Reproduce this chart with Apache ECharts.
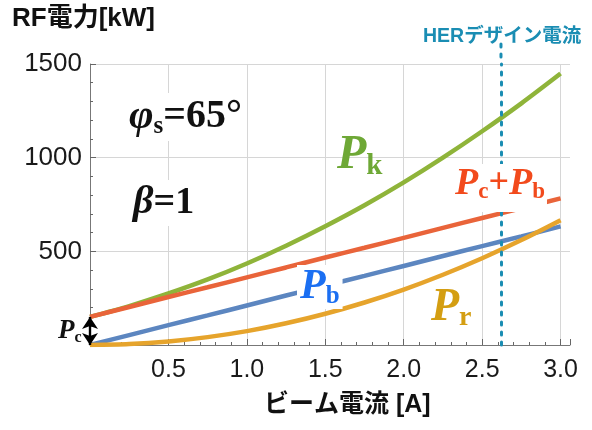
<!DOCTYPE html>
<html><head><meta charset="utf-8">
<script src="https://cdn.jsdelivr.net/npm/echarts@6/dist/echarts.min.js"></script>
<style>html,body{margin:0;padding:0;background:#fff}#c{width:592px;height:430px}</style>
</head><body><div id="c"></div><script>
// Beam current [A] and RF power components [kW]
const beamCurrent = [0, 0.25, 0.5, 0.75, 1.0, 1.25, 1.5, 1.75, 2.0, 2.25, 2.5, 2.75, 3.0];
const powerKlystron = [150, 208, 275, 350, 435, 530, 634, 746, 868, 1000, 1141, 1290, 1449];
const powerCavityBeam = [150, 203, 256, 308, 361, 414, 467, 519, 572, 625, 678, 730, 783];
const powerBeam = [0, 53, 106, 158, 211, 264, 317, 369, 422, 475, 528, 580, 633];
const powerReflected = [0, 5, 19, 42, 74, 116, 167, 227, 296, 375, 463, 560, 666];
const cavityLoss = 150;
const herDesignCurrent = 2.62;
const xTickLabels = ['0.5', '1.0', '1.5', '2.0', '2.5', '3.0'];
const yTickLabels = ['500', '1000', '1500'];

const SANS = '"Liberation Sans", Arial, "Noto Sans CJK JP", sans-serif';
const SERIF = '"Liberation Serif", "Times New Roman", serif';
const pairs = ys => beamCurrent.map((x, i) => [x, ys[i]]);

const chart = echarts.init(document.getElementById('c'));

// Math-style label: italic symbol, lowered upright subscript, upright text
function mathLabel(left, top, parts, color, size, pad) {
  const sub = Math.round(size * 0.6);
  const rich = {
    p: { fontFamily: SERIF, fontStyle: 'italic', fontWeight: 'bold', fontSize: size, fill: color, lineHeight: size + 2 },
    s: { fontFamily: SERIF, fontWeight: 'bold', fontSize: sub, fill: color, verticalAlign: 'bottom', lineHeight: sub + 2 },
    n: { fontFamily: SERIF, fontWeight: 'bold', fontSize: size * 0.95, fill: color, lineHeight: size + 2 }
  };
  return {
    type: 'text', left, top, z: 50,
    style: {
      text: parts.map(([k, t]) => '{' + k + '|' + t + '}').join(''),
      rich,
      backgroundColor: pad ? '#fff' : null,
      padding: pad || 0
    }
  };
}

chart.setOption({
  animation: false,
  grid: { left: 90, right: 22, top: 64, bottom: 85 },
  xAxis: {
    type: 'value', min: 0, max: 3.06, interval: 0.5,
    axisLine: { lineStyle: { color: '#777', width: 1 } },
    axisTick: { inside: true, length: 6, lineStyle: { color: '#666' } },
    minorTick: { show: true, splitNumber: 5, length: 3, lineStyle: { color: '#666' } },
    splitLine: { show: true, showMaxLine: false, lineStyle: { color: '#d6d6d6', width: 1 } },
    axisLabel: {
      margin: 13, fontFamily: SANS, fontSize: 25, color: '#1a1a1a',
      showMinLabel: false, showMaxLabel: false,
      formatter: v => { const s = v.toFixed(1); return xTickLabels.includes(s) ? s : ''; }
    }
  },
  yAxis: {
    type: 'value', min: 0, max: 1500, interval: 500,
    axisLine: { show: true, lineStyle: { color: '#777', width: 1 } },
    axisTick: { show: true, inside: true, length: 6, lineStyle: { color: '#666' } },
    minorTick: { show: true, splitNumber: 5, length: 3, lineStyle: { color: '#666' } },
    splitLine: { show: true, lineStyle: { color: '#d6d6d6', width: 1 } },
    axisLabel: {
      margin: 8, fontFamily: SANS, fontSize: 26, color: '#1a1a1a',
      formatter: v => { const s = String(v); return yTickLabels.includes(s) ? s : ''; }
    }
  },
  series: [
    { type: 'line', name: 'Pk', data: pairs(powerKlystron), smooth: 0.3, showSymbol: false,
      lineStyle: { color: '#8fb43a', width: 4.5 } },
    { type: 'line', name: 'Pc+Pb', data: pairs(powerCavityBeam), smooth: 0.3, showSymbol: false,
      lineStyle: { color: '#e9643a', width: 4.5 },
      markLine: {
        silent: true, symbol: ['arrow', 'arrow'], symbolSize: [12, 12],
        label: { show: false },
        lineStyle: { color: '#000', width: 2.4, type: 'solid' },
        data: [[{ coord: [0, 0] }, { coord: [0, cavityLoss] }]]
      } },
    { type: 'line', name: 'Pb', data: pairs(powerBeam), smooth: 0.3, showSymbol: false,
      lineStyle: { color: '#5c86c0', width: 4.5 } },
    { type: 'line', name: 'Pr', data: pairs(powerReflected), smooth: 0.3, showSymbol: false,
      lineStyle: { color: '#e6a42c', width: 4.5 },
      markLine: {
        silent: true, symbol: ['none', 'none'], label: { show: false },
        lineStyle: { color: '#1a8db3', width: 3, type: [3, 7], cap: 'round' },
        data: [{ xAxis: herDesignCurrent }]
      } }
  ]
});

const xHer = chart.convertToPixel({ xAxisIndex: 0 }, herDesignCurrent);
const yTop = chart.convertToPixel({ yAxisIndex: 0 }, 1500);

chart.setOption({
  graphic: [
    { type: 'text', left: 12, top: 6, style: { text: 'RF電力[kW]', fontFamily: SANS, fontWeight: 'bold', fontSize: 26, fill: '#111' } },
    { type: 'text', left: 264, top: 393, style: { text: 'ビーム電流 [A]', fontFamily: SANS, fontWeight: 'bold', fontSize: 25, fill: '#111' } },
    { type: 'text', left: 423, top: 27, style: { text: 'HERデザイン電流', fontFamily: SANS, fontWeight: 'bold', fontSize: 19.5, fill: '#1a8db3' } },
    { type: 'line', shape: { x1: xHer, y1: 44, x2: xHer, y2: yTop - 3 },
      style: { stroke: '#1a8db3', lineWidth: 3, lineDash: [3, 7], lineCap: 'round' } },
    mathLabel(127, 93, [['p', 'φ'], ['s', 's'], ['n', '=65°']], '#111', 42, [2, 2, 2, 2]),
    mathLabel(131, 180, [['p', 'β'], ['n', '=1']], '#111', 40, [2, 2, 2, 2]),
    mathLabel(337, 132, [['p', 'P'], ['s', 'k']], '#6ea836', 48, 0),
    mathLabel(453, 164, [['p', 'P'], ['s', 'c'], ['n', '+'], ['p', 'P'], ['s', 'b']], '#f24a1c', 38, [0, 2, 8, 2]),
    mathLabel(297, 265, [['p', 'P'], ['s', 'b']], '#1b6ff2', 42, [0, 3, 0, 3]),
    mathLabel(431, 285, [['p', 'P'], ['s', 'r']], '#d49e12', 46, 0),
    { type: 'text', left: 58, top: 318, z: 50, style: {
      text: '{p|P}{s|c}',
      rich: {
        p: { fontFamily: SERIF, fontStyle: 'italic', fontWeight: 'bold', fontSize: 27, fill: '#111', lineHeight: 29 },
        s: { fontFamily: SERIF, fontWeight: 'bold', fontSize: 16, fill: '#111', verticalAlign: 'bottom', lineHeight: 18 }
      } } }
  ]
});
</script></body></html>
